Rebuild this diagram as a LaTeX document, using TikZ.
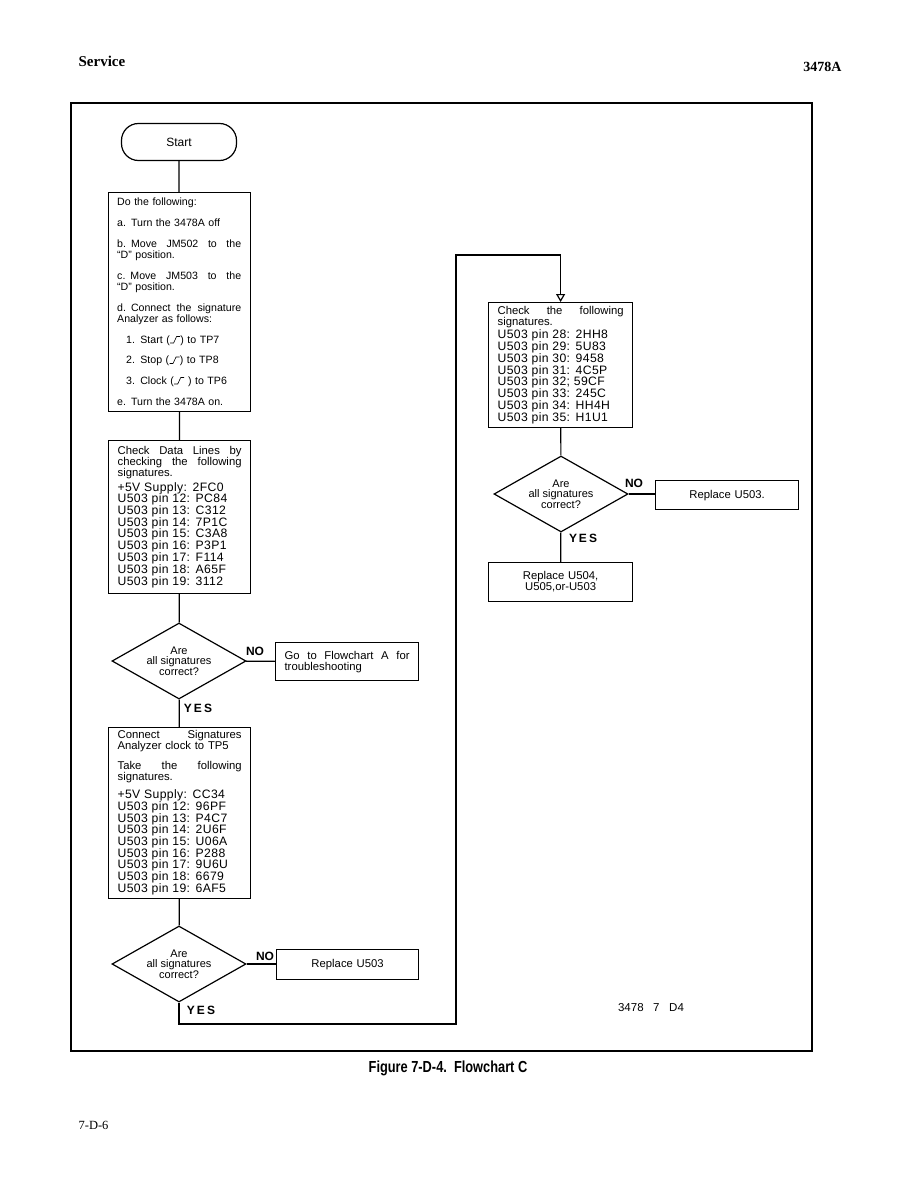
\documentclass[tikz,border=0pt]{standalone}
\usepackage{fontspec}
\setmainfont{Liberation Sans}
\newfontfamily\headfont{Liberation Serif}
\newfontfamily\capfont[FakeStretch=0.8]{Liberation Sans}
\usetikzlibrary{arrows.meta,shapes.geometric}

\newcommand\spreadline[2][124pt]{\makebox[#1][s]{\spaceskip=0pt\xspaceskip=0pt\relax #2}}
\newcommand\datafont{\fontsize{12.2}{11.7}\selectfont\addfontfeature{LetterSpace=3}\lineskiplimit=-100pt\lineskip=0pt}
\newcommand\riseedge{\tikz[baseline=0pt]\draw[line width=0.6pt] (0pt,0pt)--(3.5pt,0pt)--(6.5pt,6.5pt)--(10pt,6.5pt);}
\newcommand\itemgap{\hspace{5pt}}

\begin{document}
\begin{tikzpicture}[x=1pt,y=-1pt,line width=1.2pt,
  box/.style={draw,rectangle,anchor=north west,align=left,inner xsep=9pt,inner ysep=0pt,
    font=\fontsize{11.3}{11}\selectfont},
  decision/.style={draw,diamond,aspect=1.75,inner sep=0pt,align=center,
    minimum width=134pt,minimum height=76pt,font=\fontsize{11}{9.8}\selectfont},
  answer/.style={inner sep=0pt,font=\fontsize{12}{12}\selectfont\bfseries}]
  \useasboundingbox (0,0) rectangle (918,1188);

  % page header, frame and caption
  \node[anchor=base west,inner sep=0pt,font=\headfont\bfseries\fontsize{15}{15}\selectfont] (service) at (78,67) {Service};
  \node[anchor=base east,inner sep=0pt,font=\headfont\bfseries\fontsize{14}{14}\selectfont] (model) at (842,72) {3478A};
  \draw[line width=1.4pt] (71,103) rectangle (812,1051);
  \node[inner sep=0pt,font=\capfont\bfseries\fontsize{16}{16}\selectfont] (caption) at (448,1068) {Figure 7-D-4.\ \ Flowchart C};
  \node[anchor=base west,inner sep=0pt,font=\headfont\fontsize{12.5}{12.5}\selectfont] (pageno) at (78,1129) {7-D-6};
  \node[inner sep=0pt,font=\fontsize{11.5}{11.5}\selectfont] (artno) at (651,1008) {3478\ \ \ 7\ \ \ D4};

  % left column: start, setup, data lines
  \node[draw,rounded corners=17pt,minimum width=115pt,minimum height=37pt,
    font=\fontsize{12}{12}\selectfont] (start) at (179,142) {Start};
  \node[box,text width=124pt,minimum height=219pt,font=\fontsize{10.6}{10.7}\selectfont] (setup) at (108,192) {%
    Do the following:\\[10.3pt]
    a.\itemgap Turn the 3478A off\\[10.3pt]
    \spreadline{b.\itemgap Move JM502 to the}\\
    ``D'' position.\\[10.3pt]
    \spreadline{c.\itemgap Move JM503 to the}\\
    ``D'' position.\\[10.3pt]
    \spreadline{d.\itemgap Connect the signature}\\
    Analyzer as follows:\\[10.3pt]
    \hspace*{9pt}1. Start (\riseedge) to TP7\\[9.8pt]
    \hspace*{9pt}2. Stop (\riseedge) to TP8\\[9.8pt]
    \hspace*{9pt}3. Clock (\riseedge\ ) to TP6\\[10.3pt]
    e.\itemgap Turn the 3478A on.};
  \node[box,text width=124pt,minimum height=153pt] (datalines) at (108,440) {%
    \spreadline{Check Data Lines by}\\
    \spreadline{checking the following}\\
    signatures.\par\vspace{3pt}
    \datafont +5V Supply: 2FC0\\
    U503 pin 12: PC84\\ U503 pin 13: C312\\ U503 pin 14: 7P1C\\
    U503 pin 15: C3A8\\ U503 pin 16: P3P1\\ U503 pin 17: F114\\
    U503 pin 18: A65F\\ U503 pin 19: 3112};
  \node[decision] (check1) at (179,661) {Are\\all signatures\\correct?};
  \node[box,text width=125pt,minimum height=38pt] (flowA) at (275,642) {%
    \spreadline[125pt]{Go to Flowchart A for}\\troubleshooting};
  \node[answer] (no1) at (255,651) {NO};
  \node[answer] (yes1) at (198,708) {Y\,E\,S};

  % left column: clock to TP5
  \node[box,text width=124pt,minimum height=171pt] (clockTP5) at (108,727) {%
    \spreadline{Connect Signatures}\\
    Analyzer clock to TP5\\[9pt]
    \spreadline{Take the following}\\
    signatures.\par\vspace{6pt}
    \datafont +5V Supply: CC34\\
    U503 pin 12: 96PF\\ U503 pin 13: P4C7\\ U503 pin 14: 2U6F\\
    U503 pin 15: U06A\\ U503 pin 16: P288\\ U503 pin 17: 9U6U\\
    U503 pin 18: 6679\\ U503 pin 19: 6AF5};
  \node[decision] (check2) at (179,964) {Are\\all signatures\\correct?};
  \node[box,align=center,text width=124pt,minimum height=30pt] (replA) at (276,949) {Replace U503};
  \node[answer] (no2) at (265,956) {NO};
  \node[answer] (yes2) at (201,1010) {Y\,E\,S};

  % right column: pins 28 to 35
  \node[box,text width=126pt,minimum height=125pt] (pins) at (488,302) {%
    \spreadline[126pt]{Check the following}\\
    signatures.\par\vspace{2pt}
    \datafont U503 pin 28: 2HH8\\ U503 pin 29: 5U83\\ U503 pin 30: 9458\\
    U503 pin 31: 4C5P\\ U503 pin 32; 59CF\\ U503 pin 33: 245C\\
    U503 pin 34: HH4H\\ U503 pin 35: H1U1};
  \node[decision] (check3) at (561,494) {Are\\all signatures\\correct?};
  \node[box,align=center,text width=125pt,minimum height=29pt] (replB) at (655,480) {Replace U503.};
  \node[box,align=center,text width=126pt,minimum height=39pt] (replC) at (488,562) {Replace U504,\\U505,or-U503};
  \node[answer] (no3) at (634,483) {NO};
  \node[answer] (yes3) at (583,538) {Y\,E\,S};

  % connectors
  \coordinate (loopA) at (456,1024);
  \coordinate (loopB) at (456,255);
  \draw (start) -- (setup);
  \draw (setup) -- (datalines);
  \draw (datalines) -- (check1);
  \draw (check1) -- (flowA);
  \draw (check1) -- (clockTP5);
  \draw (clockTP5) -- (check2);
  \draw (check2.east) -- (check2.east -| replA.west);
  \draw[-{Triangle[open,width=9pt,length=8pt]}] (check2.south) |- (loopA) -- (loopB) -| (pins.north);
  \draw (pins) -- (check3);
  \draw (check3.east) -- (check3.east -| replB.west);
  \draw (check3) -- (replC);
\end{tikzpicture}
\end{document}
